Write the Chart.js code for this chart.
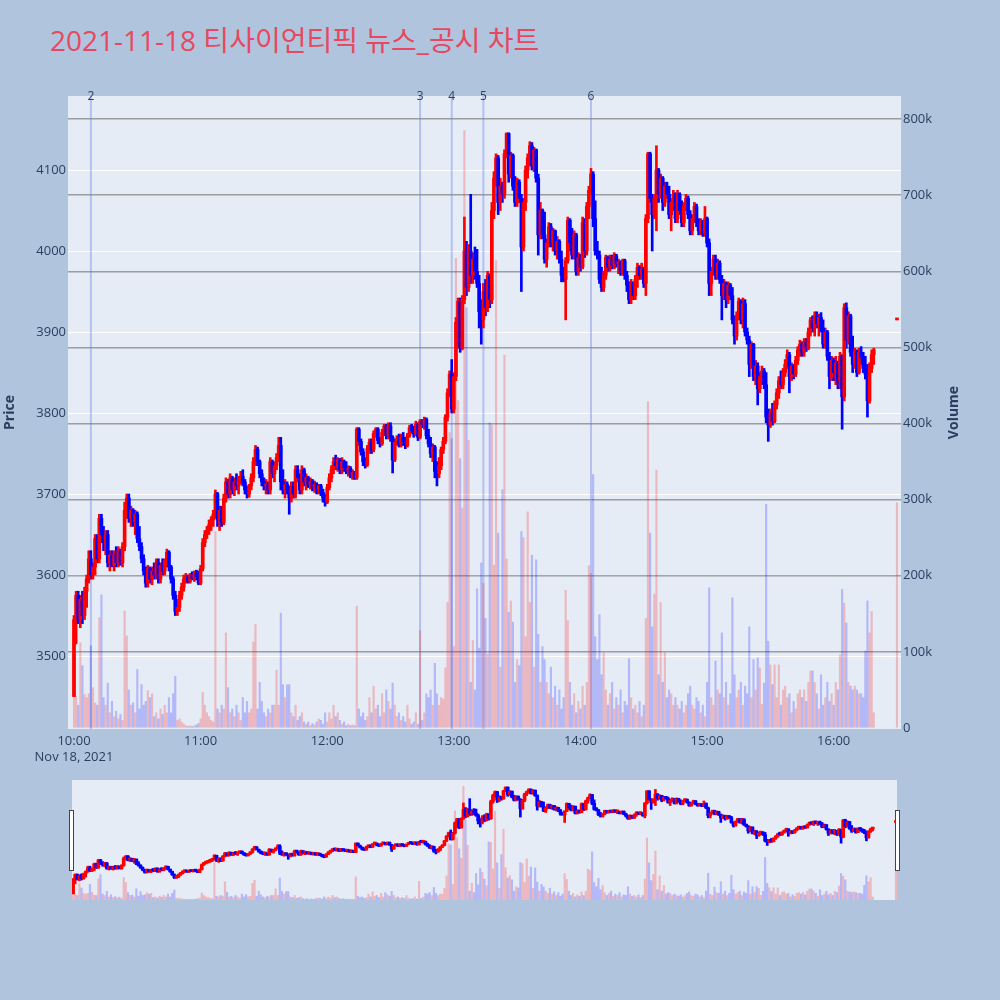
<!DOCTYPE html>
<html lang="ko">
<head>
  <meta charset="UTF-8">
  <title>티사이언티픽 뉴스_공시 차트</title>
  <script src="https://cdn.jsdelivr.net/npm/chart.js"></script>
  <style>
    body { margin:0; background:#b0c4de; width:1000px; height:1000px; position:relative; overflow:hidden;
           font-family:"Open Sans", "Noto Sans CJK KR", sans-serif; }
    #title { position:absolute; left:50px; top:21px; font-size:28px; line-height:38px; color:#e8485f; white-space:nowrap; }
    #main { position:absolute; left:0; top:0; }
    #slider { position:absolute; left:72px; top:780px; background:#e5ecf6; }
    .handle { position:absolute; top:810px; width:3px; height:59px; background:#fff; border:1px solid #444; }
  </style>
</head>
<body>
  <div id="title">2021-11-18 티사이언티픽 뉴스_공시 차트</div>
  <canvas id="main" width="1000" height="780"></canvas>
  <canvas id="slider" width="825" height="120"></canvas>
  <div class="handle" style="left:69px"></div>
  <div class="handle" style="left:895px"></div>
<script>
// minutes after 10:00 (continuous session 10:00-16:19, closing print at 16:30)
const minutes = Array.from({length: 380}, (_, i) => i).concat([390]);

const opens = [
3450,3545,3575,3545,3570,3550,3580,3595,3620,3600,
3610,3645,3620,3670,3650,3640,3650,3615,3625,3612,
3625,3615,3630,3615,3635,3680,3695,3670,3680,3665,
3675,3645,3635,3620,3605,3590,3608,3595,3605,3600,
3615,3595,3612,3605,3618,3628,3610,3595,3575,3555,
3560,3575,3585,3595,3598,3592,3600,3596,3602,3598,
3590,3608,3640,3650,3655,3662,3668,3675,3700,3668,
3680,3665,3695,3715,3700,3720,3705,3715,3710,3718,
3722,3715,3705,3700,3710,3720,3740,3755,3740,3725,
3715,3710,3712,3705,3740,3725,3735,3745,3760,3715,
3705,3712,3705,3695,3710,3700,3730,3720,3705,3730,
3715,3720,3712,3716,3708,3712,3706,3710,3702,3695,
3690,3708,3720,3730,3740,3735,3742,3730,3740,3732,
3728,3732,3724,3726,3720,3780,3765,3752,3740,3736,
3756,3764,3755,3775,3780,3766,3762,3776,3784,3772,
3784,3770,3742,3764,3768,3762,3770,3764,3760,3772,
3782,3778,3774,3786,3770,3790,3786,3792,3772,3762,
3750,3758,3728,3725,3735,3755,3765,3795,3825,3848,
3805,3845,3912,3938,3880,3940,4000,3955,4000,3970,
3990,3975,3960,3925,3915,3950,3930,3970,3940,4050,
4090,4115,4060,4080,4070,4120,4145,4095,4118,4080,
4060,4085,4065,4005,4060,4100,4115,4130,4105,4125,
4090,4020,4050,4020,3990,4010,4030,4010,4025,4000,
4012,3990,3970,3965,3988,4038,4010,3995,4020,3975,
3992,3980,4035,4000,4055,4075,4095,4040,4000,3995,
3965,3955,3970,3992,3980,3990,3982,3994,3984,3986,
3975,3988,3970,3958,3940,3960,3945,3965,3980,3970,
3978,3960,4040,4120,4065,4045,4065,4100,4070,4090,
4060,4080,4070,4045,4060,4070,4040,4070,4050,4035,
4055,4065,4045,4025,4040,4055,4035,4025,4035,4022,
4040,4010,3960,3975,3990,3970,3985,3965,3945,3960,
3940,3958,3945,3915,3895,3920,3938,3915,3935,3900,
3890,3860,3885,3845,3858,3830,3845,3852,3835,3795,
3785,3800,3790,3810,3825,3840,3835,3850,3860,3872,
3845,3858,3848,3865,3878,3885,3875,3888,3880,3900,
3915,3905,3920,3910,3918,3905,3885,3900,3870,3845,
3865,3850,3862,3840,3870,3820,3930,3890,3920,3875,
3860,3875,3850,3875,3868,3855,3848,3815,3855,3872,
3915];

const highs = [
3550,3580,3580,3575,3580,3585,3600,3630,3630,3615,
3650,3650,3675,3675,3660,3655,3655,3630,3630,3630,
3635,3635,3632,3640,3690,3700,3700,3685,3682,3680,
3678,3660,3640,3625,3610,3612,3610,3610,3615,3620,
3620,3615,3620,3620,3632,3630,3612,3598,3580,3570,
3580,3590,3600,3602,3600,3602,3604,3605,3606,3605,
3612,3645,3655,3660,3668,3672,3680,3705,3702,3685,
3685,3700,3720,3718,3725,3722,3720,3725,3722,3728,
3730,3718,3710,3712,3725,3745,3760,3758,3742,3730,
3720,3718,3715,3745,3742,3740,3750,3770,3770,3730,
3718,3715,3710,3715,3715,3735,3735,3725,3735,3732,
3725,3722,3720,3718,3716,3714,3712,3712,3706,3700,
3712,3725,3735,3745,3748,3745,3744,3745,3742,3740,
3735,3734,3730,3728,3782,3782,3768,3756,3745,3760,
3768,3768,3778,3782,3782,3770,3780,3786,3786,3788,
3788,3772,3768,3772,3774,3774,3776,3770,3775,3785,
3786,3784,3790,3788,3792,3792,3795,3794,3780,3770,
3762,3760,3740,3745,3758,3770,3798,3830,3852,3866,
3850,3918,3942,3942,3945,4042,4012,4008,4070,3998,
4005,4002,3970,3940,3960,3965,3975,3972,4060,4098,
4120,4118,4090,4085,4125,4146,4146,4122,4120,4092,
4090,4088,4070,4065,4105,4120,4135,4134,4128,4126,
4095,4060,4052,4048,4015,4035,4034,4028,4026,4018,
4014,4000,3980,3992,4042,4040,4028,4025,4022,3998,
3996,4042,4040,4060,4080,4102,4098,4062,4012,4000,
3980,3975,3995,3994,3995,3995,3998,3996,3990,3988,
3990,3990,3975,3962,3965,3962,3970,3985,3982,3985,
3980,4045,4122,4122,4070,4070,4130,4102,4095,4092,
4085,4085,4080,4065,4075,4072,4075,4072,4062,4060,
4070,4068,4050,4045,4060,4058,4040,4040,4038,4055,
4042,4015,3980,3995,3995,3990,3988,3970,3965,3962,
3962,3960,3955,3920,3925,3942,3940,3942,3940,3905,
3895,3888,3886,3865,3862,3850,3858,3855,3850,3805,
3805,3812,3815,3830,3845,3852,3855,3866,3878,3875,
3862,3860,3870,3882,3890,3888,3892,3892,3905,3918,
3920,3925,3925,3922,3924,3915,3905,3902,3875,3870,
3868,3870,3864,3875,3872,3935,3936,3925,3922,3895,
3880,3878,3880,3882,3875,3870,3860,3862,3878,3880,
3915];

const lows = [
3450,3515,3540,3535,3540,3545,3560,3590,3595,3595,
3600,3615,3615,3640,3630,3625,3610,3605,3610,3605,
3610,3610,3612,3610,3630,3670,3665,3660,3660,3650,
3640,3630,3615,3600,3585,3585,3590,3588,3595,3595,
3590,3590,3600,3600,3610,3605,3590,3570,3550,3550,
3555,3570,3580,3590,3590,3590,3594,3592,3594,3588,
3588,3605,3635,3645,3650,3655,3660,3670,3660,3655,
3660,3662,3690,3695,3695,3700,3698,3705,3700,3712,
3710,3700,3695,3696,3705,3715,3735,3735,3720,3710,
3705,3700,3700,3700,3720,3715,3730,3740,3705,3700,
3695,3700,3675,3690,3695,3695,3715,3700,3700,3710,
3705,3708,3706,3704,3702,3700,3700,3698,3690,3685,
3688,3705,3715,3725,3730,3728,3725,3725,3728,3725,
3722,3720,3718,3718,3718,3760,3748,3735,3732,3734,
3750,3750,3752,3770,3762,3758,3760,3772,3768,3768,
3765,3726,3740,3760,3758,3758,3760,3756,3758,3770,
3775,3770,3772,3766,3768,3782,3780,3768,3758,3745,
3740,3720,3710,3720,3730,3750,3762,3790,3820,3800,
3800,3840,3880,3875,3878,3935,3945,3950,3960,3960,
3965,3955,3905,3885,3905,3920,3925,3930,3935,4040,
4080,4045,4050,4060,4065,4115,4085,4090,4075,4055,
4055,4060,3950,4000,4050,4090,4105,4100,4098,4085,
3995,4015,4015,3985,3980,4005,4005,4000,3995,3990,
3985,3962,3962,3915,3985,4000,3990,3990,3970,3970,
3975,3978,3992,3995,4040,4070,4030,3995,3990,3960,
3950,3950,3965,3975,3975,3978,3978,3980,3972,3970,
3970,3965,3950,3935,3935,3940,3940,3955,3965,3965,
3955,3945,4035,4060,4000,4040,4025,4060,4065,4050,
4055,4065,4040,4025,4050,4035,4035,4045,4030,4030,
4050,4040,4020,4020,4035,4030,4020,4020,4018,4018,
4005,3945,3945,3970,3965,3965,3960,3915,3940,3930,
3935,3940,3910,3885,3890,3915,3910,3905,3895,3885,
3845,3855,3840,3835,3810,3825,3835,3830,3788,3765,
3782,3785,3788,3805,3818,3830,3830,3845,3855,3825,
3840,3842,3845,3860,3870,3870,3870,3876,3878,3895,
3900,3895,3905,3895,3900,3880,3880,3865,3830,3840,
3840,3835,3830,3830,3780,3815,3880,3885,3870,3850,
3855,3845,3848,3860,3850,3842,3795,3812,3850,3860,
3915];

const closes = [
3545,3575,3545,3570,3550,3580,3595,3620,3600,3610,
3645,3620,3670,3650,3640,3650,3615,3625,3612,3625,
3615,3630,3615,3635,3680,3695,3670,3680,3665,3675,
3645,3635,3620,3605,3590,3608,3595,3605,3600,3615,
3595,3612,3605,3618,3628,3610,3595,3575,3555,3560,
3575,3585,3595,3598,3592,3600,3596,3602,3598,3590,
3608,3640,3650,3655,3662,3668,3675,3700,3668,3680,
3665,3695,3715,3700,3720,3705,3715,3710,3718,3722,
3715,3705,3700,3710,3720,3740,3755,3740,3725,3715,
3710,3712,3705,3740,3725,3735,3745,3760,3715,3705,
3712,3705,3695,3710,3700,3730,3720,3705,3730,3715,
3720,3712,3716,3708,3712,3706,3710,3702,3695,3690,
3708,3720,3730,3740,3735,3742,3730,3740,3732,3728,
3732,3724,3726,3720,3780,3765,3752,3740,3736,3756,
3764,3755,3775,3780,3766,3762,3776,3784,3772,3784,
3770,3742,3764,3768,3762,3770,3764,3760,3772,3782,
3778,3774,3786,3770,3790,3786,3792,3772,3762,3750,
3758,3728,3725,3735,3755,3765,3795,3825,3848,3805,
3845,3912,3938,3880,3940,4000,3955,4000,3970,3990,
3975,3960,3925,3915,3950,3930,3970,3940,4050,4090,
4115,4060,4080,4070,4120,4145,4095,4118,4080,4060,
4085,4065,4005,4060,4100,4115,4130,4105,4125,4090,
4020,4050,4020,3990,4010,4030,4010,4025,4000,4012,
3990,3970,3965,3988,4038,4010,3995,4020,3975,3992,
3980,4035,4000,4055,4075,4095,4040,4000,3995,3965,
3955,3970,3992,3980,3990,3982,3994,3984,3986,3975,
3988,3970,3958,3940,3960,3945,3965,3980,3970,3978,
3960,4040,4120,4065,4045,4065,4100,4070,4090,4060,
4080,4070,4045,4060,4070,4040,4070,4050,4035,4055,
4065,4045,4025,4040,4055,4035,4025,4035,4022,4040,
4010,3960,3975,3990,3970,3985,3965,3945,3960,3940,
3958,3945,3915,3895,3920,3938,3915,3935,3900,3890,
3860,3885,3845,3858,3830,3845,3852,3835,3795,3785,
3800,3790,3810,3825,3840,3835,3850,3860,3872,3845,
3858,3848,3865,3878,3885,3875,3888,3880,3900,3915,
3905,3920,3910,3918,3905,3885,3900,3870,3845,3865,
3850,3862,3840,3870,3820,3930,3890,3920,3875,3860,
3875,3850,3875,3868,3855,3848,3815,3855,3872,3878,
3915];

// volume in thousands of shares
const volumesK = [
55,42,30,112,82,44,40,45,108,53,
33,30,145,175,40,30,59,20,35,15,
22,12,18,10,154,121,50,30,33,20,
77,25,57,30,35,49,40,45,15,20,
12,25,18,30,20,40,20,45,68,10,
12,8,5,3,2,3,2,3,4,6,
12,47,30,20,15,10,8,258,25,20,
30,25,125,53,20,25,15,30,20,10,
40,20,35,20,25,113,136,25,60,35,
20,15,25,20,30,30,76,30,151,57,
40,57,57,20,15,30,10,15,20,8,
5,8,3,6,4,8,12,10,5,20,
8,20,12,30,15,20,10,5,8,3,
5,3,4,3,160,25,15,20,10,15,
40,20,55,25,30,15,45,20,50,35,
25,59,30,15,20,10,15,8,30,12,
5,8,20,5,128,10,20,45,40,50,
30,85,45,30,40,38,79,165,388,380,
107,617,430,354,289,785,552,378,60,115,
50,183,105,217,190,144,97,401,398,214,
614,256,80,313,490,222,152,167,139,60,
90,82,258,250,120,284,165,227,80,221,
123,60,107,90,60,45,80,40,55,30,
50,25,40,181,141,60,30,45,20,35,
25,55,30,60,213,203,333,120,90,149,
70,99,50,30,45,60,25,40,30,50,
20,35,30,91,40,25,30,20,35,15,
30,144,429,256,133,176,339,70,165,60,
99,40,50,45,30,40,30,25,35,20,
30,45,55,30,25,40,35,20,30,15,
60,184,40,30,88,50,45,125,40,60,
30,45,171,70,40,50,60,30,55,45,
133,40,90,50,92,79,31,59,294,114,
83,57,83,40,83,30,50,55,40,45,
20,35,25,45,50,40,50,35,60,75,
75,60,45,25,70,30,40,60,35,45,
30,60,50,96,182,164,138,60,55,50,
55,50,45,45,40,101,167,125,153,20,
296];

// news / disclosure markers
const newsMinutes = [8, 164, 179, 194, 245];
const newsLabels = ['2', '3', '4', '5', '6'];

const timeTicks = [0, 60, 120, 180, 240, 300, 360];
const timeLabels = ['10:00', '11:00', '12:00', '13:00', '14:00', '15:00', '16:00'];
const dateLabel = 'Nov 18, 2021';
const priceTicks = [3500, 3600, 3700, 3800, 3900, 4000, 4100];
const volumeTicks = [0, 100, 200, 300, 400, 500, 600, 700, 800];

const PRICE_MIN = 3409.9, PRICE_MAX = 4191.4;
const VOL_MIN = -1.3, VOL_MAX = 830.3;
const UP = '#ff0000', DOWN = '#0000ff';

Chart.defaults.font.family = '"Open Sans", "Noto Sans", sans-serif';
Chart.defaults.color = '#2a3f5f';

const isUp = minutes.map((m, i) => closes[i] >= opens[i]);

function makeDatasets() {
  return [
    {
      label: 'Volume', yAxisID: 'y2', order: 3, grouped: false, barThickness: 1.5,
      data: minutes.map((m, i) => ({x: m, y: volumesK[i]})),
      backgroundColor: isUp.map(u => u ? 'rgba(255,0,0,0.22)' : 'rgba(0,0,255,0.22)')
    },
    {
      label: 'wick', yAxisID: 'y', order: 2, grouped: false, barThickness: 2,
      data: minutes.map((m, i) => ({x: m, y: [lows[i], highs[i]]})),
      backgroundColor: isUp.map(u => u ? UP : DOWN)
    },
    {
      label: 'body', yAxisID: 'y', order: 1, grouped: false, barThickness: 3, minBarLength: 2,
      data: minutes.map((m, i) => ({x: m, y: [Math.min(opens[i], closes[i]), Math.max(opens[i], closes[i])]})),
      backgroundColor: isUp.map(u => u ? UP : DOWN)
    }
  ];
}

const plotBg = {
  id: 'plotBg',
  beforeDraw(chart) {
    const {ctx, chartArea: a} = chart;
    ctx.save();
    ctx.fillStyle = '#e5ecf6';
    ctx.fillRect(a.left, a.top, a.right - a.left, a.bottom - a.top);
    ctx.restore();
  }
};

const newsMarks = {
  id: 'newsMarks',
  beforeDatasetsDraw(chart) {
    const {ctx, chartArea: a, scales} = chart;
    ctx.save();
    ctx.strokeStyle = 'rgba(100,120,230,0.38)';
    ctx.lineWidth = 2;
    newsMinutes.forEach(m => {
      const px = scales.x.getPixelForValue(m);
      ctx.beginPath(); ctx.moveTo(px, a.top); ctx.lineTo(px, a.bottom); ctx.stroke();
    });
    ctx.restore();
  },
  afterDraw(chart) {
    const {ctx, chartArea: a, scales} = chart;
    ctx.save();
    ctx.fillStyle = '#2a3f5f';
    ctx.font = '12px "Open Sans", sans-serif';
    ctx.textAlign = 'center';
    ctx.textBaseline = 'middle';
    newsMinutes.forEach((m, i) => ctx.fillText(newsLabels[i], scales.x.getPixelForValue(m), a.top + 1));
    // axis titles, both reading bottom to top
    ctx.font = 'bold 14px "Open Sans", sans-serif';
    [['Price', 10], ['Volume', 954]].forEach(([t, x]) => {
      ctx.save();
      ctx.translate(x, (a.top + a.bottom) / 2);
      ctx.rotate(-Math.PI / 2);
      ctx.fillText(t, 0, 0);
      ctx.restore();
    });
    ctx.restore();
  }
};

new Chart(document.getElementById('main'), {
  type: 'bar',
  data: {datasets: makeDatasets()},
  options: {
    responsive: false, animation: false,
    layout: {padding: {top: 96, left: 0, right: 0, bottom: 0}},
    plugins: {legend: {display: false}, tooltip: {enabled: false}},
    scales: {
      x: {
        type: 'linear', min: -2.84, max: 391.9, offset: false,
        grid: {display: false, drawTicks: false}, border: {display: false},
        afterBuildTicks: s => { s.ticks = timeTicks.map(v => ({value: v})); },
        ticks: {
          maxRotation: 0, autoSkip: false, padding: 4,
          font: {size: 13, lineHeight: 1.25},
          callback: (v, i) => i === 0 ? [timeLabels[0], dateLabel] : timeLabels[i]
        },
        afterFit: s => { s.height = 51; }
      },
      y: {
        position: 'left', min: PRICE_MIN, max: PRICE_MAX,
        grid: {color: '#ffffff', lineWidth: 1, drawTicks: false}, border: {display: false},
        afterBuildTicks: s => { s.ticks = priceTicks.map(v => ({value: v})); },
        ticks: {font: {size: 13}, padding: 2, callback: v => String(v)},
        afterFit: s => { s.width = 68; }
      },
      y2: {
        position: 'right', min: VOL_MIN, max: VOL_MAX,
        grid: {
          color: c => (c.tick && c.tick.value === 0) ? 'rgba(0,0,0,0)' : 'rgba(105,105,105,0.6)',
          lineWidth: 1.5, drawTicks: false
        },
        border: {display: false},
        afterBuildTicks: s => { s.ticks = volumeTicks.map(v => ({value: v})); },
        ticks: {font: {size: 13}, padding: 2, callback: v => v === 0 ? '0' : v + 'k'},
        afterFit: s => { s.width = 99; }
      }
    }
  },
  plugins: [plotBg, newsMarks]
});

// range slider preview
new Chart(document.getElementById('slider'), {
  type: 'bar',
  data: {datasets: makeDatasets()},
  options: {
    responsive: false, animation: false,
    layout: {padding: 0},
    plugins: {legend: {display: false}, tooltip: {enabled: false}},
    scales: {
      x: {type: 'linear', min: -0.5, max: 390.5, offset: false, display: false},
      y: {min: PRICE_MIN, max: PRICE_MAX, display: false},
      y2: {min: VOL_MIN, max: VOL_MAX, display: false}
    }
  }
});
</script>
</body>
</html>
